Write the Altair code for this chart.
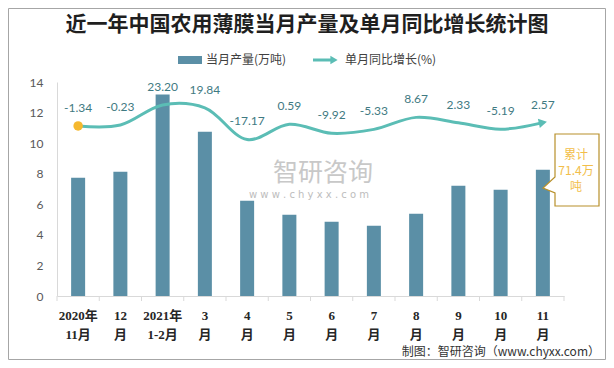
import altair as alt
import pandas as pd

# ---- data ----
months = ["2020年\n11月", "12\n月", "2021年\n1-2月", "3\n月", "4\n月", "5\n月",
          "6\n月", "7\n月", "8\n月", "9\n月", "10\n月", "11\n月"]
production = [7.74, 8.13, 13.18, 10.75, 6.23, 5.31, 4.85, 4.59, 5.38, 7.21, 6.95, 8.26]
yoy = [-1.34, -0.23, 23.20, 19.84, -17.17, 0.59, -9.92, -5.33, 8.67, 2.33, -5.19, 2.57]
yoy_labels = ["-1.34", "-0.23", "23.20", "19.84", "-17.17", "0.59", "-9.92", "-5.33",
              "8.67", "2.33", "-5.19", "2.57"]

title_text = "近一年中国农用薄膜当月产量及单月同比增长统计图"
legend_bar = "当月产量(万吨)"
legend_line = "单月同比增长(%)"
callout_lines = ["累计", "71.4万", "吨"]
source_text = "制图：智研咨询（www.chyxx.com）"

BAR = "#5B8FA6"
LINE = "#5BBDB5"
CJK = "Noto Sans CJK SC"
NUM = "Lato, Noto Sans CJK SC"

df = pd.DataFrame({"i": list(range(len(months))), "month": months,
                   "prod": production, "yoy": yoy, "lab": yoy_labels})
one = pd.DataFrame({"k": [0]})

W, H = 507, 214

X = alt.X("month:N", sort=months, title=None,
          scale=alt.Scale(paddingInner=0, paddingOuter=0),
          axis=alt.Axis(labelExpr="split(datum.label, '\\n')", labelAngle=0,
                        ticks=False, tickSize=0, labelPadding=13, labelLineHeight=19,
                        labelFont="Liberation Serif, Noto Sans CJK SC", labelFontWeight="bold",
                        labelFontSize=13, labelColor="#262626",
                        domainColor="#D9D9D9", domainWidth=1))

bars = alt.Chart(df).mark_bar(size=14, color=BAR).encode(
    x=X,
    y=alt.Y("prod:Q", scale=alt.Scale(domain=[0, 14]), title=None,
            axis=alt.Axis(values=list(range(0, 15, 2)), ticks=False, tickSize=0, grid=False,
                          labelPadding=14, labelFont=NUM, labelFontSize=12,
                          labelColor="#595959", domainColor="#D9D9D9")),
)

xticks = alt.Chart(df).mark_rule(color="#D9D9D9").encode(
    x=alt.X("month:N", sort=months, bandPosition=0),
    y=alt.value(H), y2=alt.value(H + 5))
xtick_end = alt.Chart(one).mark_rule(color="#D9D9D9").encode(
    x=alt.value(W), y=alt.value(H), y2=alt.value(H + 5))

Y2 = alt.Y("yoy:Q", scale=alt.Scale(domain=[-200, 50]), axis=None)

line = alt.Chart(df).mark_line(interpolate="catmull-rom", color=LINE, strokeWidth=3).encode(
    x=alt.X("month:N", sort=months), y=Y2)
start_dot = alt.Chart(df).transform_filter("datum.i == 0").mark_point(
    filled=True, color="#F5B82E", size=90, opacity=1).encode(
    x=alt.X("month:N", sort=months), y=Y2)
arrow = alt.Chart(df).transform_filter("datum.i == 11").mark_point(
    shape="triangle-right", filled=True, color=LINE, size=90, opacity=1, angle=348, dx=-1).encode(
    x=alt.X("month:N", sort=months), y=Y2)
labels = alt.Chart(df).mark_text(dy=-18, font=NUM, fontSize=12, color="#3F7A82").encode(
    x=alt.X("month:N", sort=months), y=Y2, text="lab:N")

line_group = alt.layer(line, start_dot, arrow, labels)

# ---- annotations ----
border = alt.Chart(one).mark_rect(fill=None, stroke="#A6A6A6", strokeWidth=1).encode(
    x=alt.value(-48.5), x2=alt.value(548.5), y=alt.value(-73.5), y2=alt.value(277.5))
title = alt.Chart(one).mark_text(text=title_text, font=CJK, fontSize=21, fontWeight="bold",
                                 color="#1F1F1F", align="center", baseline="middle").encode(
    x=alt.value(250), y=alt.value(-57))
leg_sw = alt.Chart(one).mark_rect(color=BAR).encode(
    x=alt.value(121), x2=alt.value(145), y=alt.value(-26), y2=alt.value(-18))
leg_t1 = alt.Chart(one).mark_text(text=legend_bar, font=CJK, fontSize=12, color="#404040",
                                  align="left", baseline="middle").encode(
    x=alt.value(149), y=alt.value(-22))
leg_ln = alt.Chart(one).mark_rule(color=LINE, strokeWidth=3).encode(
    x=alt.value(256), x2=alt.value(274), y=alt.value(-22))
leg_ar = alt.Chart(one).mark_point(shape="triangle-right", filled=True, color=LINE,
                                   size=70, opacity=1).encode(
    x=alt.value(277), y=alt.value(-22))
leg_t2 = alt.Chart(one).mark_text(text=legend_line, font=CJK, fontSize=12, color="#404040",
                                  align="left", baseline="middle").encode(
    x=alt.value(288), y=alt.value(-22))

callout_path = "M -0.4 -0.9 L 0.7 -0.9 L 0.7 0.9 L -0.4 0.9 L -0.4 0.575 L -0.7 0.45 L -0.4 0.175 Z"
callout = alt.Chart(one).mark_point(shape=callout_path, size=6400, filled=False, fill="white",
                                    fillOpacity=1, stroke="#B8902A", strokeWidth=1.2,
                                    opacity=1).encode(
    x=alt.value(514), y=alt.value(88))
callout_txt = alt.Chart(one).mark_text(text=callout_lines, font=CJK, fontSize=12,
                                       color="#F2BE4A", lineHeight=16, align="center",
                                       baseline="middle").encode(
    x=alt.value(519), y=alt.value(73))

wm1 = alt.Chart(one).mark_text(text="智研咨询", font=CJK, fontSize=25, color="#C8C8C8",
                               align="center", baseline="middle").encode(
    x=alt.value(266), y=alt.value(91))
wm2 = alt.Chart(one).mark_text(text="w w w . c h y x x . c o m", font="DejaVu Sans", fontSize=10,
                               color="#BDBDBD", align="center", baseline="middle").encode(
    x=alt.value(252), y=alt.value(113))

source = alt.Chart(one).mark_text(text=source_text, font=CJK, fontSize=12, color="#333333",
                                  align="right", baseline="middle").encode(
    x=alt.value(543), y=alt.value(270))

chart = alt.layer(
    border, wm1, wm2, bars, xticks, xtick_end, line_group,
    title, leg_sw, leg_t1, leg_ln, leg_ar, leg_t2, callout, callout_txt, source
).resolve_scale(y="independent").properties(
    width=W, height=H,
    padding={"left": 49, "top": 74, "right": 42, "bottom": 64},
    autosize=alt.AutoSizeParams(type="none"),
    background="white",
).configure_view(stroke=None)

chart.save("out.html", embed_options={"renderer": "svg", "actions": False})
